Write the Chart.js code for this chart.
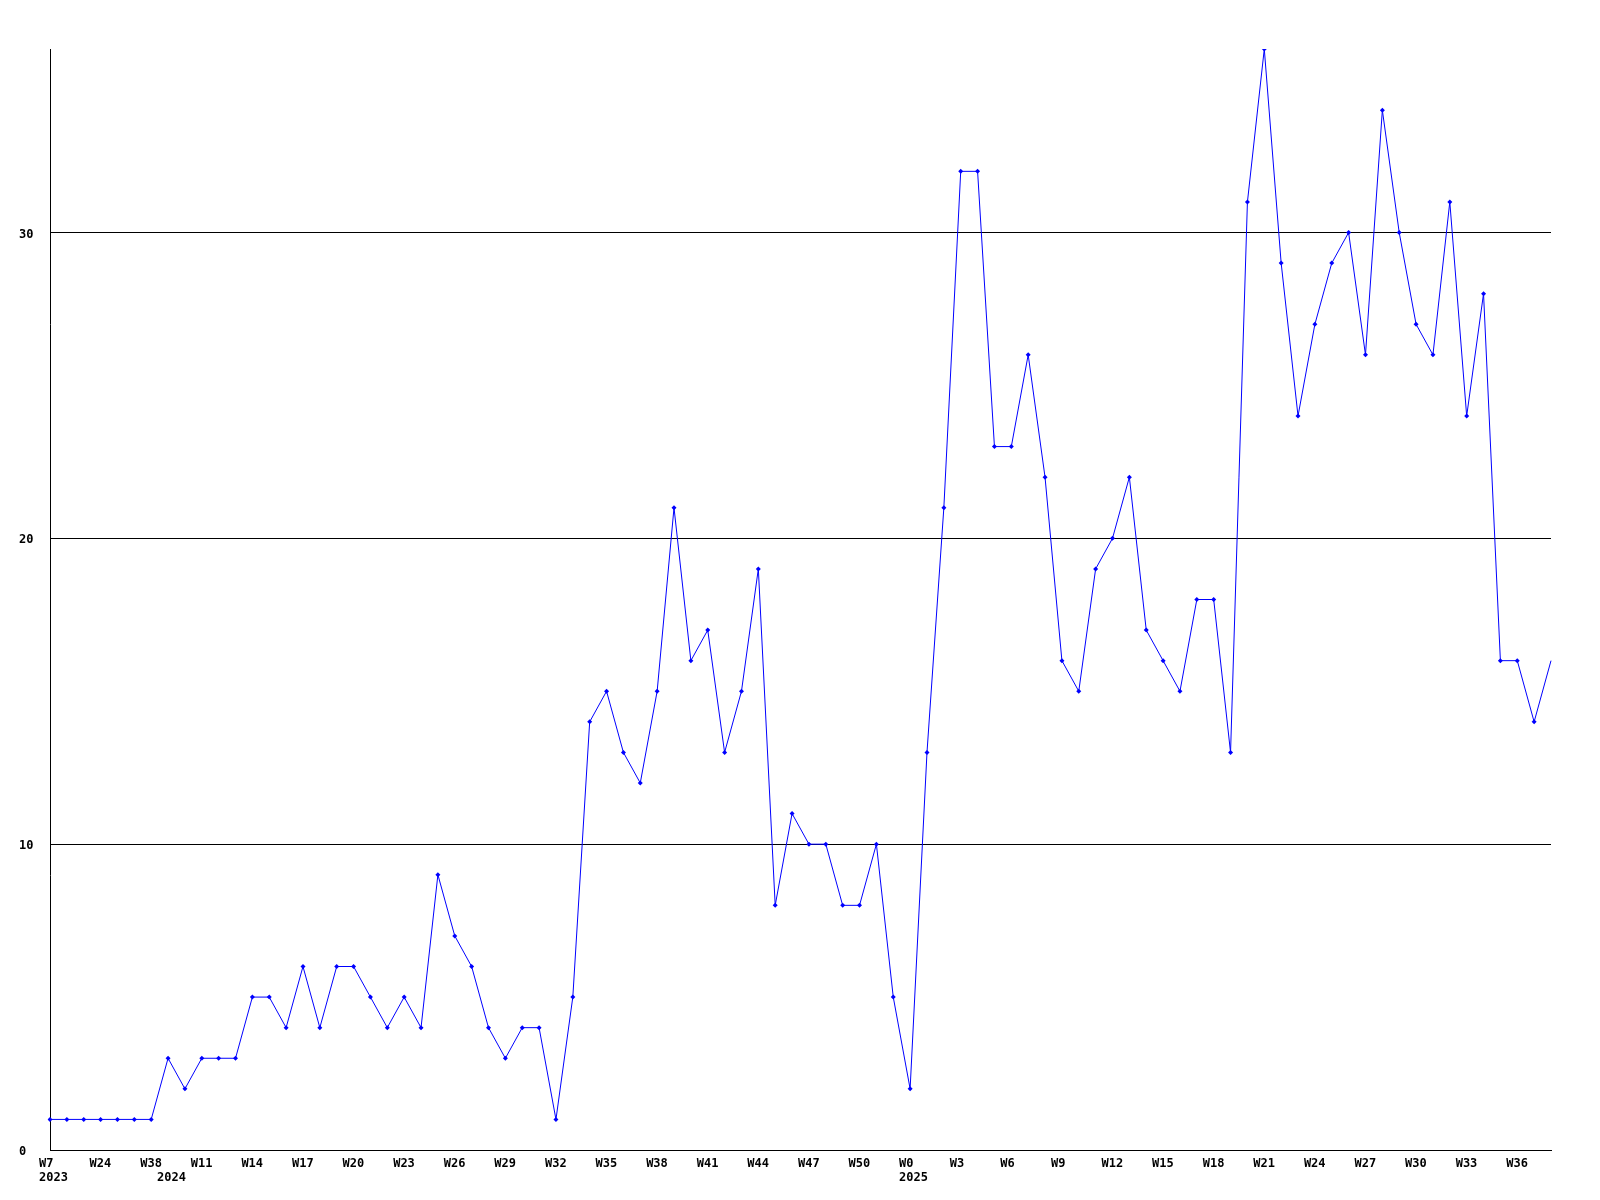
<!DOCTYPE html>
<html>
<head>
<meta charset="utf-8">
<script src="https://cdn.jsdelivr.net/npm/chart.js@4/dist/chart.umd.min.js"></script>
<style>
  html, body { margin: 0; padding: 0; background: #fff; }
  #wrap { width: 1600px; height: 1200px; }
</style>
</head>
<body>
<div id="wrap"><canvas id="chart"></canvas></div>
<script>
// week of each point
const weeks = [
    'W7', 'W12', 'W18', 'W24', 'W28', 'W33', 'W38',
    'W9', 'W10', 'W11', 'W12', 'W13', 'W14', 'W15', 'W16', 'W17', 'W18', 'W19', 'W20',
    'W21', 'W22', 'W23', 'W24', 'W25', 'W26', 'W27', 'W28', 'W29', 'W30', 'W31', 'W32',
    'W33', 'W34', 'W35', 'W36', 'W37', 'W38', 'W39', 'W40', 'W41', 'W42', 'W43', 'W44',
    'W45', 'W46', 'W47', 'W48', 'W49', 'W50', 'W51', 'W52',
    'W0', 'W1', 'W2', 'W3', 'W4', 'W5', 'W6', 'W7', 'W8', 'W9', 'W10', 'W11', 'W12',
    'W13', 'W14', 'W15', 'W16', 'W17', 'W18', 'W19', 'W20', 'W21', 'W22', 'W23', 'W24',
    'W25', 'W26', 'W27', 'W28', 'W29', 'W30', 'W31', 'W32', 'W33', 'W34', 'W35', 'W36',
    'W37', 'W38'
];

// year of each point
const years = [
    '2023', '2023', '2023', '2023', '2023', '2023', '2023',
    '2024', '2024', '2024', '2024', '2024', '2024', '2024', '2024', '2024', '2024', '2024', '2024',
    '2024', '2024', '2024', '2024', '2024', '2024', '2024', '2024', '2024', '2024', '2024', '2024',
    '2024', '2024', '2024', '2024', '2024', '2024', '2024', '2024', '2024', '2024', '2024', '2024',
    '2024', '2024', '2024', '2024', '2024', '2024', '2024', '2024',
    '2025', '2025', '2025', '2025', '2025', '2025', '2025', '2025', '2025', '2025', '2025', '2025', '2025',
    '2025', '2025', '2025', '2025', '2025', '2025', '2025', '2025', '2025', '2025', '2025', '2025',
    '2025', '2025', '2025', '2025', '2025', '2025', '2025', '2025', '2025', '2025', '2025', '2025',
    '2025', '2025'
];

const counts = [
    1, 1, 1, 1, 1, 1, 1,
    3, 2, 3, 3, 3, 5, 5, 4, 6, 4, 6, 6,
    5, 4, 5, 4, 9, 7, 6, 4, 3, 4, 4, 1,
    5, 14, 15, 13, 12, 15, 21, 16, 17, 13, 15, 19,
    8, 11, 10, 10, 8, 8, 10, 5,
    2, 13, 21, 32, 32, 23, 23, 26, 22, 16, 15, 19, 20,
    22, 17, 16, 15, 18, 18, 13, 31, 36, 29, 24, 27,
    29, 30, 26, 34, 30, 27, 26, 31, 24, 28, 16, 16,
    14, 16
];

const yTicks = [0, 10, 20, 30];
const yMax = 36;

const font = { family: '"DejaVu Sans Mono", "Liberation Mono", monospace', size: 12, weight: 'bold', lineHeight: '13.5px' };

const ctx = document.getElementById('chart').getContext('2d');
const myChart = new Chart(ctx, {
    type: 'line',
    data: {
        labels: weeks,
        datasets: [{
            data: counts,
            borderColor: '#0000ff',
            backgroundColor: '#0000ff',
            borderWidth: 1,
            tension: 0,
            pointStyle: 'rectRot',
            // last point sits on the right edge without a marker
            pointRadius: c => c.dataIndex === counts.length - 1 ? 0 : 2.5,
            pointBorderWidth: 0,
            pointHoverRadius: 2.5
        }]
    },
    options: {
        responsive: true,
        maintainAspectRatio: false,
        animation: false,
        layout: { padding: { left: 19, top: 49, right: 49, bottom: 0 } },
        plugins: {
            legend: { display: false },
            tooltip: { enabled: false }
        },
        scales: {
            x: {
                offset: false,
                grid: { display: false, drawTicks: false },
                border: { color: '#000', width: 1 },
                ticks: {
                    autoSkip: false,
                    maxRotation: 0,
                    minRotation: 0,
                    align: 'start',
                    labelOffset: -11,
                    padding: 7.5,
                    color: '#000',
                    font: font,
                    callback: (v, i) => {
                        const w = i % 3 === 0 ? weeks[i] : '';
                        const y = (i === 0 || years[i] !== years[i - 1]) ? years[i] : '';
                        return y ? [w, y] : w;
                    }
                },
                afterFit: s => { s.height = 50; }
            },
            y: {
                min: 0,
                max: yMax,
                grid: { color: '#000', lineWidth: 1, drawTicks: false },
                border: { color: '#000', width: 1 },
                ticks: {
                    crossAlign: 'far',
                    padding: 0,
                    labelOffset: 2,
                    color: '#000',
                    font: font
                },
                afterBuildTicks: s => { s.ticks = yTicks.map(v => ({ value: v })); },
                afterFit: s => { s.width = 31; }
            }
        }
    },
    plugins: [{
        id: 'whiteBg',
        beforeDraw: c => {
            const g = c.ctx;
            g.save();
            g.fillStyle = '#fff';
            g.fillRect(0, 0, c.width, c.height);
            g.restore();
        }
    }]
});
</script>
</body>
</html>
